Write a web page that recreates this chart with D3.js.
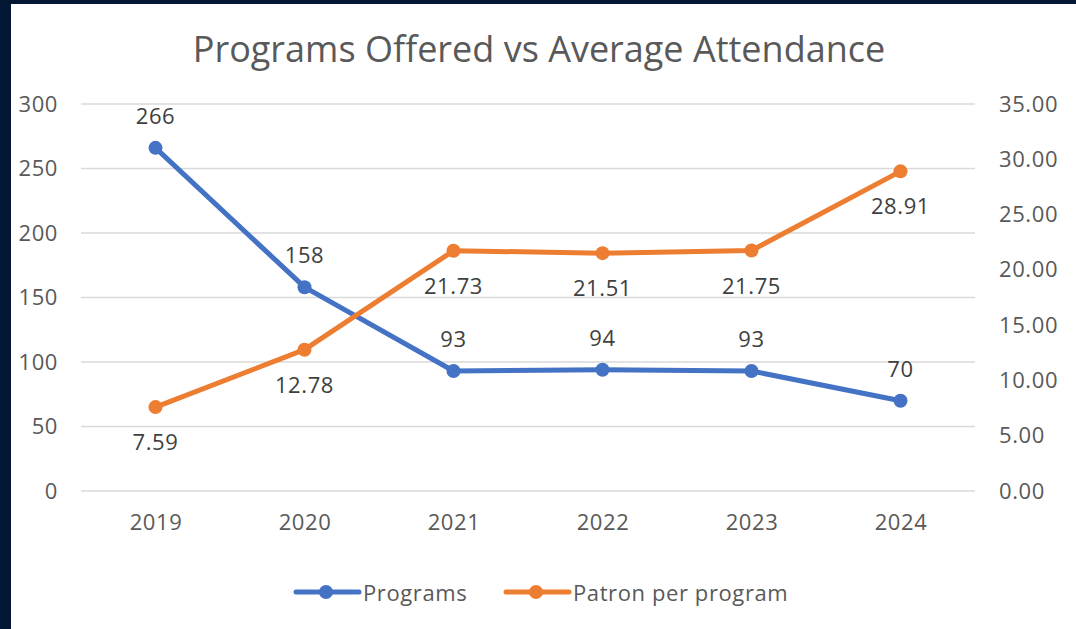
<!DOCTYPE html>
<html>
<head>
<meta charset="utf-8">
<script src="https://cdn.jsdelivr.net/npm/d3@7"></script>
<style>
  body { margin: 0; background: #031634; }
  svg { display: block; }
  text { font-family: "Open Sans", "Noto Sans", sans-serif; }
</style>
</head>
<body>
<svg id="chart" width="1076" height="629"></svg>
<script>
// data
var years = ["2019", "2020", "2021", "2022", "2023", "2024"];
var programs = [266, 158, 93, 94, 93, 70];
var patrons = [7.59, 12.78, 21.73, 21.51, 21.75, 28.91];
var leftTicks = [0, 50, 100, 150, 200, 250, 300];
var rightTicks = [0, 5, 10, 15, 20, 25, 30, 35];

var svg = d3.select("#chart");
var W = 1076, H = 629;
var m = { left: 81, right: 975, top: 104, bottom: 491 };
var fs = 22;

svg.append("rect").attr("x", 11).attr("y", 4).attr("width", W - 11).attr("height", H - 4).attr("fill", "#fff");

var x = d3.scalePoint().domain(years).range([m.left, m.right]).padding(0.5);
var yL = d3.scaleLinear().domain([0, 300]).range([m.bottom, m.top]);
var yR = d3.scaleLinear().domain([0, 35]).range([m.bottom, m.top]);

// title
svg.append("text").attr("x", 539).attr("y", 62).attr("text-anchor", "middle")
    .attr("font-size", 36).attr("fill", "#595959").text("Programs Offered vs Average Attendance");

// gridlines
svg.append("g").selectAll("line").data(leftTicks).enter().append("line")
    .attr("x1", m.left).attr("x2", m.right)
    .attr("y1", function (d) { return yL(d); }).attr("y2", function (d) { return yL(d); })
    .attr("stroke", "#d9d9d9").attr("stroke-width", 1.5);

function styleAxis(g) {
    g.select(".domain").remove();
    g.selectAll("text").attr("font-size", fs).attr("fill", "#595959")
        .attr("font-family", "Open Sans, sans-serif").attr("letter-spacing", 0.6);
}

// left axis
var gL = svg.append("g").attr("transform", "translate(58,0)")
    .call(d3.axisLeft(yL).tickValues(leftTicks).tickSize(0).tickPadding(0));
styleAxis(gL);

// right axis
var gR = svg.append("g").attr("transform", "translate(999,0)")
    .call(d3.axisRight(yR).tickValues(rightTicks).tickSize(0).tickPadding(0).tickFormat(d3.format(".2f")));
styleAxis(gR);

// bottom axis
var gB = svg.append("g").attr("transform", "translate(0," + (m.bottom + 23) + ")")
    .call(d3.axisBottom(x).tickSize(0).tickPadding(0));
styleAxis(gB);

var blue = "#4472C4", orange = "#ED7D31";

function drawSeries(vals, yScale, color, dy, fmt) {
    var line = d3.line().x(function (d, i) { return x(years[i]); }).y(function (d) { return yScale(d); });
    svg.append("path").datum(vals).attr("d", line).attr("fill", "none")
        .attr("stroke", color).attr("stroke-width", 5).attr("stroke-linejoin", "round").attr("stroke-linecap", "round");
    svg.append("g").selectAll("circle").data(vals).enter().append("circle")
        .attr("cx", function (d, i) { return x(years[i]); })
        .attr("cy", function (d) { return yScale(d); })
        .attr("r", 7).attr("fill", color);
    svg.append("g").selectAll("text").data(vals).enter().append("text")
        .attr("x", function (d, i) { return x(years[i]); })
        .attr("y", function (d) { return yScale(d) + dy; })
        .attr("text-anchor", "middle").attr("dominant-baseline", "central")
        .attr("font-size", fs).attr("letter-spacing", 0.6).attr("fill", "#404040")
        .text(fmt);
}

drawSeries(programs, yL, blue, -33, function (d) { return d; });
drawSeries(patrons, yR, orange, 34, function (d) { return d.toFixed(2); });

// legend
var legend = [
    { name: "Programs", color: blue, x: 296 },
    { name: "Patron per program", color: orange, x: 506 }
];
var lg = svg.append("g").selectAll("g").data(legend).enter().append("g")
    .attr("transform", function (d) { return "translate(" + d.x + ",592)"; });
lg.append("line").attr("x1", 0).attr("x2", 63).attr("y1", 0).attr("y2", 0)
    .attr("stroke", function (d) { return d.color; }).attr("stroke-width", 5).attr("stroke-linecap", "round");
lg.append("circle").attr("cx", 30).attr("cy", 0).attr("r", 7).attr("fill", function (d) { return d.color; });
lg.append("text").attr("x", 67).attr("y", 0).attr("dominant-baseline", "central")
    .attr("font-size", fs).attr("letter-spacing", 0.6).attr("fill", "#595959").text(function (d) { return d.name; });
</script>
</body>
</html>
